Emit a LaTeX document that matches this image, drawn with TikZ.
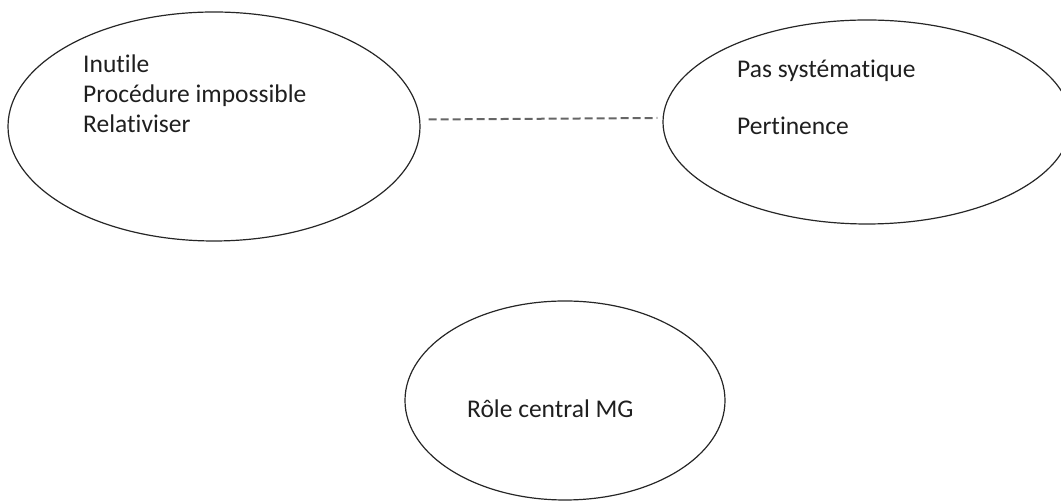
\documentclass[tikz,border=0pt]{standalone}
\usepackage{fontspec}
\setmainfont{Carlito}[Ligatures={NoCommon}]
\usetikzlibrary{shapes.geometric}
\begin{document}
\begin{tikzpicture}[x=1pt,y=1pt,
  bubble/.style={ellipse,draw=black!85,line width=1.2pt,inner sep=0pt,fill=none},
  label/.style={anchor=base west,inner sep=0pt,text=black!88,font=\fontsize{25.5}{30}\selectfont},
  link/.style={draw=black!60,line width=2pt,dash pattern=on 8pt off 4pt}]
  \useasboundingbox (0,0) rectangle (1061,502);
  % the three bubbles
  \node[bubble,minimum width=412pt,minimum height=229pt] (L) at (214,375.5) {};
  \node[bubble,minimum width=408pt,minimum height=204pt] (R) at (867,380) {};
  \node[bubble,minimum width=320pt,minimum height=199pt] (B) at (565,101.5) {};
  % texts inside the bubbles
  \node[label] (l1) at (83,429) {Inutile};
  \node[label] (l2) at (83,399) {Procédure impossible};
  \node[label] (l3) at (83,369) {Relativiser};
  \node[label] (r1) at (737,424) {Pas systématique};
  \node[label] (r2) at (737,367) {Pertinence};
  \node[label] (b1) at (467,84) {Rôle central MG};
  % dashed link between the top bubbles
  \draw[link] ([xshift=8pt,yshift=7pt]L.east) -- ([xshift=-5pt,yshift=4pt]R.west);
\end{tikzpicture}
\end{document}
